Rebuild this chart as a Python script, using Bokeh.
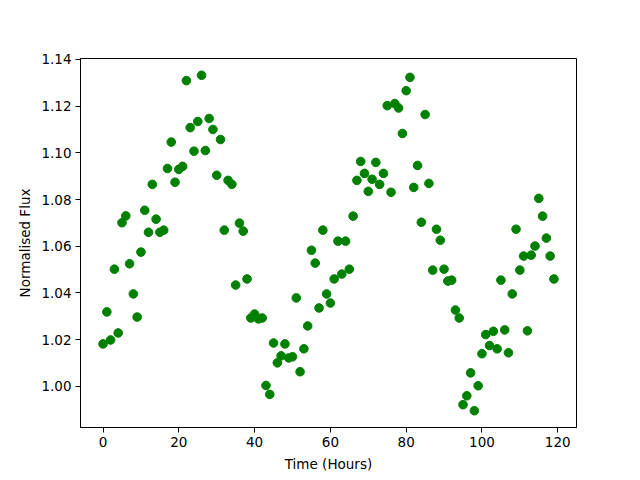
from bokeh.plotting import figure
from bokeh.models import Range1d, FixedTicker, PrintfTickFormatter
from bokeh.embed import file_html
from bokeh.resources import INLINE

hours = list(range(120))
flux = [
    1.0182, 1.0319, 1.0199, 1.0502, 1.0229, 1.0701, 1.0730, 1.0525, 1.0396, 1.0297,
    1.0575, 1.0754, 1.0660, 1.0865, 1.0716, 1.0660, 1.0669, 1.0933, 1.1046, 1.0874,
    1.0929, 1.0942, 1.1309, 1.1108, 1.1007, 1.1134, 1.1332, 1.1010, 1.1147, 1.1100,
    1.0904, 1.1057, 1.0669, 1.0882, 1.0865, 1.0434, 1.0699, 1.0665, 1.0460, 1.0293,
    1.0310, 1.0289, 1.0293, 1.0004, 0.9966, 1.0186, 1.0101, 1.0131, 1.0182, 1.0122,
    1.0127, 1.0379, 1.0063, 1.0161, 1.0259, 1.0583, 1.0528, 1.0336, 1.0669, 1.0396,
    1.0357, 1.0460, 1.0622, 1.0481, 1.0622, 1.0502, 1.0729, 1.0882, 1.0963, 1.0912,
    1.0835, 1.0887, 1.0959, 1.0865, 1.0912, 1.1202, 1.0831, 1.1211, 1.1192, 1.1083,
    1.1266, 1.1323, 1.0852, 1.0946, 1.0703, 1.1164, 1.0869, 1.0498, 1.0673, 1.0626,
    1.0502, 1.0451, 1.0455, 1.0327, 1.0293, 0.9922, 0.9960, 1.0058, 0.9896, 1.0003,
    1.0140, 1.0222, 1.0175, 1.0236, 1.0161, 1.0455, 1.0242, 1.0144, 1.0396, 1.0673,
    1.0498, 1.0558, 1.0238, 1.0562, 1.0601, 1.0805, 1.0729, 1.0635, 1.0558, 1.0460,
]
x_ticks = [0, 20, 40, 60, 80, 100, 120]
y_ticks = [1.00, 1.02, 1.04, 1.06, 1.08, 1.10, 1.12, 1.14]

xmin, xmax = min(hours), max(hours)
ymin, ymax = min(flux), max(flux)
xpad = 0.05 * (xmax - xmin)
ypad = 0.05 * (ymax - ymin)

p = figure(
    frame_width=496, frame_height=369,
    min_border_left=80, min_border_top=58, min_border_right=56, min_border_bottom=45,
    output_backend="svg", toolbar_location=None,
    x_range=Range1d(xmin - xpad, xmax + xpad),
    y_range=Range1d(ymin - ypad, ymax + ypad),
    background_fill_color="white", border_fill_color="white",
)
p.scatter(hours, flux, size=8.6, fill_color="green", line_color="green")

p.xgrid.visible = False
p.ygrid.visible = False
p.outline_line_color = "black"
p.outline_line_width = 1
p.outline_line_alpha = 1.0

p.xaxis.ticker = FixedTicker(ticks=x_ticks)
p.yaxis.ticker = FixedTicker(ticks=y_ticks)
p.yaxis.formatter = PrintfTickFormatter(format="%.2f")
p.xaxis.axis_label = "Time (Hours)"
p.yaxis.axis_label = "Normalised Flux"

for ax in (p.xaxis[0], p.yaxis[0]):
    ax.axis_line_color = "black"
    ax.axis_line_width = 1
    ax.major_tick_line_color = "black"
    ax.major_tick_line_width = 1
    ax.major_tick_out = 5
    ax.major_tick_in = 0
    ax.minor_tick_line_color = None
    ax.major_label_text_font = "DejaVu Sans"
    ax.major_label_text_font_size = "13.5px"
    ax.major_label_text_color = "black"
    ax.axis_label_text_font = "DejaVu Sans"
    ax.axis_label_text_font_size = "13.5px"
    ax.axis_label_text_font_style = "normal"
    ax.axis_label_text_color = "black"
    ax.major_label_standoff = 4

p.xaxis.axis_label_standoff = 6
p.yaxis.axis_label_standoff = 5

open("out.html", "w").write(file_html(p, INLINE))
